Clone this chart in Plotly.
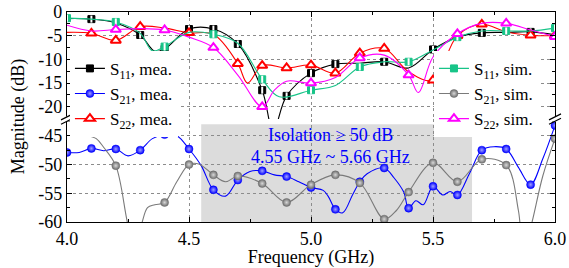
import plotly.graph_objects as go

FONT = "Liberation Serif, Times New Roman, serif"

# ---------------- data ----------------
# Top panel: reflection coefficients (dB)
s11_mea_f = [4.0, 4.1, 4.2, 4.3, 4.36, 4.4, 4.5, 4.6, 4.7, 4.8, 4.845, 4.9, 5.0, 5.1, 5.2, 5.3, 5.4, 5.5, 5.6, 5.7, 5.8, 5.9, 6.0]
s11_mea_db = [-1.4, -1.5, -2.3, -4.85, -8.3, -7.8, -3.6, -3.6, -6.75, -16.5, -25.0, -17.7, -12.9, -11.0, -10.8, -10.5, -11.8, -7.9, -5.3, -4.4, -4.3, -4.2, -4.8]
s11_mea_mk = [4.1, 4.3, 4.4, 4.5, 4.6, 4.7, 4.8, 4.9, 5.0, 5.1, 5.3, 5.5, 5.7, 5.9]

s22_mea_f = [4.0, 4.1, 4.2, 4.3, 4.4, 4.5, 4.6, 4.7, 4.74, 4.8, 4.9, 5.0, 5.1, 5.2, 5.3, 5.4, 5.5, 5.6, 5.7, 5.8, 5.9, 6.0]
s22_mea_db = [-4.3, -4.5, -6.0, -3.1, -3.4, -4.4, -4.7, -10.9, -15.0, -11.3, -11.8, -11.2, -12.9, -8.7, -7.7, -12.6, -14.4, -5.0, -2.6, -4.2, -4.9, -5.0]
s22_mea_mk = [4.1, 4.2, 4.3, 4.5, 4.7, 4.8, 4.9, 5.0, 5.1, 5.2, 5.3, 5.5, 5.6, 5.7, 5.9, 6.0]

s11_sim_f = [4.0, 4.1, 4.2, 4.3, 4.35, 4.4, 4.5, 4.6, 4.7, 4.8, 4.87, 5.0, 5.1, 5.2, 5.3, 5.4, 5.5, 5.6, 5.7, 5.8, 5.9, 6.0]
s11_sim_db = [-1.3, -1.5, -2.1, -4.5, -8.2, -7.3, -4.3, -4.7, -6.6, -14.2, -17.9, -16.5, -15.5, -11.6, -10.5, -10.5, -8.0, -5.3, -4.0, -4.0, -4.0, -3.4]
s11_sim_mk = [4.0, 4.2, 4.4, 4.6, 4.8, 5.0, 5.2, 5.4, 5.6, 5.8, 6.0]

s22_sim_f = [4.0, 4.1, 4.2, 4.3, 4.4, 4.5, 4.6, 4.7, 4.8, 4.85, 4.9, 5.0, 5.1, 5.2, 5.3, 5.4, 5.44, 5.5, 5.6, 5.7, 5.8, 5.9, 6.0]
s22_sim_db = [-2.8, -4.0, -3.7, -3.5, -3.8, -5.3, -7.5, -13.3, -20.0, -16.5, -14.6, -15.0, -13.8, -9.7, -9.1, -13.3, -17.0, -9.5, -4.6, -2.4, -2.4, -3.8, -5.2]
s22_sim_mk = [4.2, 4.4, 4.6, 4.8, 5.0, 5.2, 5.4, 5.6, 5.8, 6.0]

# Bottom panel: isolation (dB)
s21_mea_f = [4.0, 4.05, 4.1, 4.15, 4.2, 4.25, 4.3, 4.35, 4.4, 4.45, 4.5, 4.55, 4.6, 4.65, 4.7, 4.75, 4.8, 4.85, 4.9, 4.95,
             5.0, 5.05, 5.07, 5.1, 5.13, 5.17, 5.2, 5.23, 5.3, 5.34, 5.38, 5.4, 5.43, 5.46, 5.5, 5.54, 5.57, 5.6, 5.65,
             5.7, 5.75, 5.8, 5.85, 5.9, 5.95, 6.0]
s21_mea_db = [-47.9, -47.9, -47.2, -47.6, -47.3, -48.5, -47.5, -45.5, -44.8, -45.0, -47.3, -50.2, -54.4, -55.5, -52.7, -51.2, -51.1, -51.8, -52.1, -53.0,
              -54.0, -54.5, -55.5, -57.8, -58.4, -55.3, -53.0, -51.6, -50.6, -52.3, -54.8, -57.6, -56.3, -57.0, -53.8, -55.3, -54.7, -55.3, -51.5,
              -47.5, -46.9, -47.3, -50.5, -53.5, -49.0, -43.2]
s21_mea_mk = [4.0, 4.1, 4.2, 4.3, 4.4, 4.5, 4.6, 4.7, 4.8, 4.9, 5.0, 5.1, 5.2, 5.3, 5.4, 5.5, 5.6, 5.7, 5.8, 5.9, 6.0]

s21_sim_f = [4.0, 4.04, 4.08, 4.12, 4.15, 4.2, 4.25, 4.27, 4.3, 4.33, 4.36, 4.4, 4.45, 4.5, 4.54, 4.6, 4.65, 4.7, 4.8, 4.9,
             5.0, 5.1, 5.2, 5.3, 5.35, 5.4, 5.5, 5.6, 5.7, 5.8, 5.85, 5.87, 5.9, 5.95, 6.0]
s21_sim_db = [-38.0, -43.5, -44.8, -45.5, -47.0, -50.2, -60.5, -63.0, -61.0, -57.5, -57.0, -56.6, -53.0, -50.0, -49.9, -51.8, -53.0, -52.0, -53.3, -56.6,
              -53.5, -51.8, -53.2, -59.5, -58.0, -54.8, -49.7, -53.0, -49.1, -50.1, -58.0, -65.0, -61.0, -52.0, -45.5]
s21_sim_mk = [4.2, 4.4, 4.5, 4.6, 4.7, 4.8, 4.9, 5.0, 5.1, 5.2, 5.3, 5.4, 5.5, 5.6, 5.7, 5.8, 6.0]

x_ticks = [4.0, 4.5, 5.0, 5.5, 6.0]
top_ticks = [0, -5, -10, -15, -20]
top_labels = ["0", "-5", "-10", "-15", "-20"]
bot_ticks = [-45, -50, -55, -60]
bot_labels = ["-45", "-50", "-55", "-60"]

iso_band = [4.55, 5.66]

# ---------------- figure ----------------
fig = go.Figure()


def add_series(f, v, mk, name, color, marker, xa, ya, legend, stripe=False):
    fig.add_trace(go.Scatter(x=f, y=v, mode="lines", xaxis=xa, yaxis=ya,
                             line=dict(color=color, width=1.1, shape="spline", smoothing=1.0),
                             showlegend=False, hoverinfo="skip"))
    lookup = dict(zip(f, v))
    my = [lookup[x] for x in mk]
    fig.add_trace(go.Scatter(x=mk, y=my, mode="markers", xaxis=xa, yaxis=ya,
                             marker=marker, showlegend=False, hoverinfo="skip"))
    if stripe:
        fig.add_trace(go.Scatter(x=mk, y=my, mode="markers", xaxis=xa, yaxis=ya,
                                 marker=dict(symbol="line-ns", size=5, line=dict(color="white", width=2)),
                                 showlegend=False, hoverinfo="skip"))
    fig.add_trace(go.Scatter(x=[None], y=[None], mode="lines+markers", name=name, xaxis=xa, yaxis=ya,
                             line=dict(color=color, width=1.1), marker=marker, legend=legend))


BLACK = "#000000"
RED = "#FF0000"
GREEN = "#17C488"
MAGENTA = "#FF00FF"
BLUE = "#0000FF"
GRAY = "#7A7A7A"

sq = lambda c: dict(symbol="square", size=7, color=c, line=dict(color=c, width=1))
tri = lambda c: dict(symbol="triangle-up", size=9, color="white", line=dict(color=c, width=2))
ball = lambda c, g: dict(symbol="circle", size=8, color=c, gradient=dict(type="radial", color=g), line=dict(color=c, width=0.5))

# bottom panel
add_series(s21_mea_f, s21_mea_db, s21_mea_mk, "S<sub>21</sub>, mea.", BLUE, ball(BLUE, "#A0A0FF"), "x", "y", "legend")
add_series(s21_sim_f, s21_sim_db, s21_sim_mk, "S<sub>21</sub>, sim.", GRAY, ball("#6E6E6E", "#D8D8D8"), "x", "y", "legend2")
# top panel
add_series(s11_mea_f, s11_mea_db, s11_mea_mk, "S<sub>11</sub>, mea.", BLACK, sq(BLACK), "x2", "y2", "legend", stripe=True)
add_series(s22_mea_f, s22_mea_db, s22_mea_mk, "S<sub>22</sub>, mea.", RED, tri(RED), "x2", "y2", "legend")
add_series(s11_sim_f, s11_sim_db, s11_sim_mk, "S<sub>11</sub>, sim.", GREEN, sq(GREEN), "x2", "y2", "legend2", stripe=True)
add_series(s22_sim_f, s22_sim_db, s22_sim_mk, "S<sub>22</sub>, sim.", MAGENTA, tri(MAGENTA), "x2", "y2", "legend2")

# legend order: S11, S21, S22 in each legend
order = {"S<sub>11</sub>": 1, "S<sub>21</sub>": 2, "S<sub>22</sub>": 3}
for tr in fig.data:
    if tr.showlegend is not False and tr.name:
        tr.legendrank = order[tr.name.split(",")[0]]

BREAK = 0.49
tickfont = dict(family=FONT, size=18, color="black")
grid = dict(showgrid=True, gridcolor="#8C8C8C", griddash="dot", gridwidth=1, zeroline=False)

fig.update_layout(
    width=569, height=268,
    margin=dict(l=67, r=14, t=12, b=46, autoexpand=False),
    paper_bgcolor="white", plot_bgcolor="white",
    font=dict(family=FONT, size=18, color="black"),
    xaxis=dict(domain=[0, 1], anchor="y", range=[4, 6], tickvals=x_ticks, tickformat=".1f",
               showline=True, linecolor="black", linewidth=1.2, ticks="inside", ticklen=5, tickcolor="black",
               minor=dict(dtick=0.25, tick0=4.0, ticks="inside", ticklen=3, tickcolor="black"),
               tickfont=tickfont, automargin=False,
               title=dict(text="Frequency (GHz)", font=dict(family=FONT, size=18), standoff=2), **grid),
    xaxis2=dict(domain=[0, 1], anchor="y2", matches="x", range=[4, 6], side="top", tickvals=x_ticks,
                showticklabels=False, showline=True, linecolor="black", linewidth=1.2,
                ticks="inside", ticklen=5, tickcolor="black",
                minor=dict(dtick=0.25, tick0=4.0, ticks="inside", ticklen=3, tickcolor="black"), **grid),
    yaxis=dict(domain=[0, BREAK], anchor="x", range=[-60, -42.1], tickvals=bot_ticks, ticktext=bot_labels,
               showline=True, mirror="ticks", linecolor="black", linewidth=1.2, ticks="inside", ticklen=5,
               tickcolor="black", minor=dict(dtick=2.5, tick0=-60, ticks="inside", ticklen=3, tickcolor="black"),
               tickfont=tickfont, automargin=False, **grid),
    yaxis2=dict(domain=[BREAK, 1], anchor="x2", range=[-22.6, 0], tickvals=top_ticks, ticktext=top_labels,
                showline=True, mirror="ticks", linecolor="black", linewidth=1.2, ticks="inside", ticklen=5,
                tickcolor="black", minor=dict(dtick=2.5, tick0=0, ticks="inside", ticklen=3, tickcolor="black"),
                tickfont=tickfont, automargin=False, **grid),
    legend=dict(x=0.006, y=0.815, xanchor="left", yanchor="top", bgcolor="white", borderwidth=0,
                font=dict(family=FONT, size=17), tracegroupgap=0, itemwidth=30),
    legend2=dict(x=0.752, y=0.815, xanchor="left", yanchor="top", bgcolor="white", borderwidth=0,
                 font=dict(family=FONT, size=17), tracegroupgap=0, itemwidth=30),
    showlegend=True,
)

# isolation band
fig.add_shape(type="rect", xref="x", yref="y", x0=iso_band[0], x1=iso_band[1], y0=-60, y1=-43.0,
              fillcolor="#DCDCDC", line=dict(width=0), layer="below")

fig.add_annotation(x=5.08, y=-44.85, xref="x", yref="y", text="Isolation \u2265 50 dB", showarrow=False,
                   font=dict(family=FONT, size=18, color=BLUE))
fig.add_annotation(x=5.08, y=-48.7, xref="x", yref="y", text="4.55 GHz ~ 5.66 GHz", showarrow=False,
                   font=dict(family=FONT, size=18, color=BLUE))

# y title
fig.add_annotation(x=-0.1, y=0.5, xref="paper", yref="paper", text="Magnitude (dB)", textangle=-90,
                   showarrow=False, font=dict(family=FONT, size=18), xanchor="center", yanchor="middle")

# axis-break marks on both sides
for xp in (0, 1):
    fig.add_shape(type="rect", xref="paper", yref="paper", xsizemode="pixel", ysizemode="pixel",
                  xanchor=xp, yanchor=BREAK, x0=-4, x1=4, y0=-2.5, y1=2.5,
                  fillcolor="white", line=dict(width=0))
    for dy in (-2.2, 2.2):
        fig.add_shape(type="line", xref="paper", yref="paper", xsizemode="pixel", ysizemode="pixel",
                      xanchor=xp, yanchor=BREAK, x0=-6, x1=6, y0=dy - 3, y1=dy + 3,
                      line=dict(color="black", width=1.2))

fig.write_html("out.html", config={"displayModeBar": False},
               post_script="document.body.style.margin='0';document.body.style.overflow='hidden';")
